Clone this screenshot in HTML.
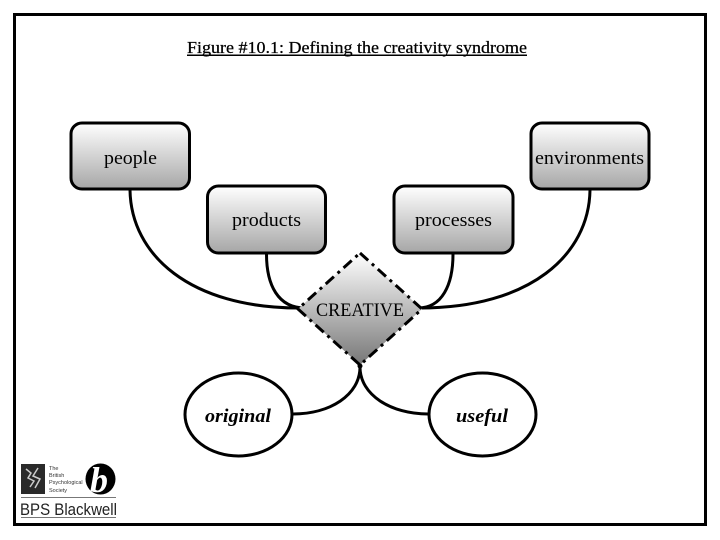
<!DOCTYPE html>
<html>
<head>
<meta charset="utf-8">
<style>
html,body{margin:0;padding:0;background:#fff}
svg{display:block}
text{font-family:"Liberation Serif",serif;fill:#000}
.l{font-size:19px}
.s{font-family:"Liberation Sans",sans-serif;font-size:5.500px;fill:#333}
</style>
</head>
<body>
<svg width="720" height="540" viewBox="0 0 720 540" xmlns="http://www.w3.org/2000/svg">
<defs>
<linearGradient id="g" x1="0" y1="0" x2="0" y2="1">
<stop offset="0" stop-color="#fff"/><stop offset="1" stop-color="#a6a6a6"/>
</linearGradient>
<linearGradient id="d" x1="0" y1="0" x2="0" y2="1">
<stop offset="0" stop-color="#fff"/><stop offset="1" stop-color="#777"/>
</linearGradient>
</defs>
<rect width="720" height="540" fill="#fff"/>
<rect x="14.500" y="14.500" width="691" height="510" fill="none" stroke="#000" stroke-width="3"/>
<text x="187" y="53" font-size="17" textLength="340" lengthAdjust="spacingAndGlyphs" stroke="#000" stroke-width="0.250">Figure #10.1: Defining the creativity syndrome</text>
<rect x="187" y="54.500" width="340" height="1.500" fill="#000"/>

<g fill="none" stroke="#000" stroke-width="3">
<path d="M130 190C131 255 190 308 299 308"/>
<path d="M266.500 254C266.500 285 278 308 305 308"/>
<path d="M453 254C453 285 442 308 418 308"/>
<path d="M590 190C589 255 530 308 420 308"/>
<path d="M293 414C330 414 360 395 360 367"/>
<path d="M428 414C391 414 360 395 360 367"/>
</g>

<g stroke="#000" stroke-width="3" fill="url(#g)">
<rect x="71" y="123" width="118.500" height="66" rx="11"/>
<rect x="207.500" y="186" width="118" height="67" rx="11"/>
<rect x="394" y="186" width="119" height="67" rx="11"/>
<rect x="531" y="123" width="118" height="66" rx="11"/>
</g>

<path d="M360 253L422 309L360 365L298 309Z" fill="url(#d)" stroke="#000" stroke-width="3" stroke-dasharray="11 5 3 5"/>
<circle cx="360" cy="366" r="2.500" fill="#000"/>

<g fill="#fff" stroke="#000" stroke-width="3">
<ellipse cx="238.500" cy="414.500" rx="53.500" ry="41.500"/>
<ellipse cx="482.500" cy="414.500" rx="53.500" ry="41.500"/>
</g>

<text class="l" x="104" y="164" textLength="53" lengthAdjust="spacingAndGlyphs">people</text>
<text class="l" x="232" y="226" textLength="69" lengthAdjust="spacingAndGlyphs">products</text>
<text class="l" x="415" y="226" textLength="77" lengthAdjust="spacingAndGlyphs">processes</text>
<text class="l" x="535" y="164" textLength="109" lengthAdjust="spacingAndGlyphs">environments</text>
<text class="l" x="316" y="316" textLength="88" lengthAdjust="spacingAndGlyphs">CREATIVE</text>
<text class="l" x="205" y="422" font-style="italic" font-weight="bold" textLength="66" lengthAdjust="spacingAndGlyphs">original</text>
<text class="l" x="456" y="422" font-style="italic" font-weight="bold" textLength="52" lengthAdjust="spacingAndGlyphs">useful</text>

<rect x="21" y="464" width="24" height="30" fill="#2a2a2a"/>
<path d="M26 469l5 4l-3 5l6 3l-4 6M38 468l-5 8l7 3l-5 9" fill="none" stroke="#ccc" stroke-width="1.500"/>
<text class="s" x="49" y="470">The</text>
<text class="s" x="49" y="477">British</text>
<text class="s" x="49" y="484">Psychological</text>
<text class="s" x="49" y="492">Society</text>
<ellipse cx="100.500" cy="479" rx="15" ry="15.500" fill="#000"/>
<text x="90" y="492" font-size="36" font-style="italic" font-weight="bold" style="fill:#fff">b</text>
<rect x="21" y="497" width="95" height="1" fill="#777"/>
<text x="20" y="515" font-size="17" textLength="97" lengthAdjust="spacingAndGlyphs" style="font-family:'Liberation Sans',sans-serif;fill:#222">BPS Blackwell</text>
<rect x="21" y="517" width="95" height="1" fill="#777"/>
</svg>
</body>
</html>
